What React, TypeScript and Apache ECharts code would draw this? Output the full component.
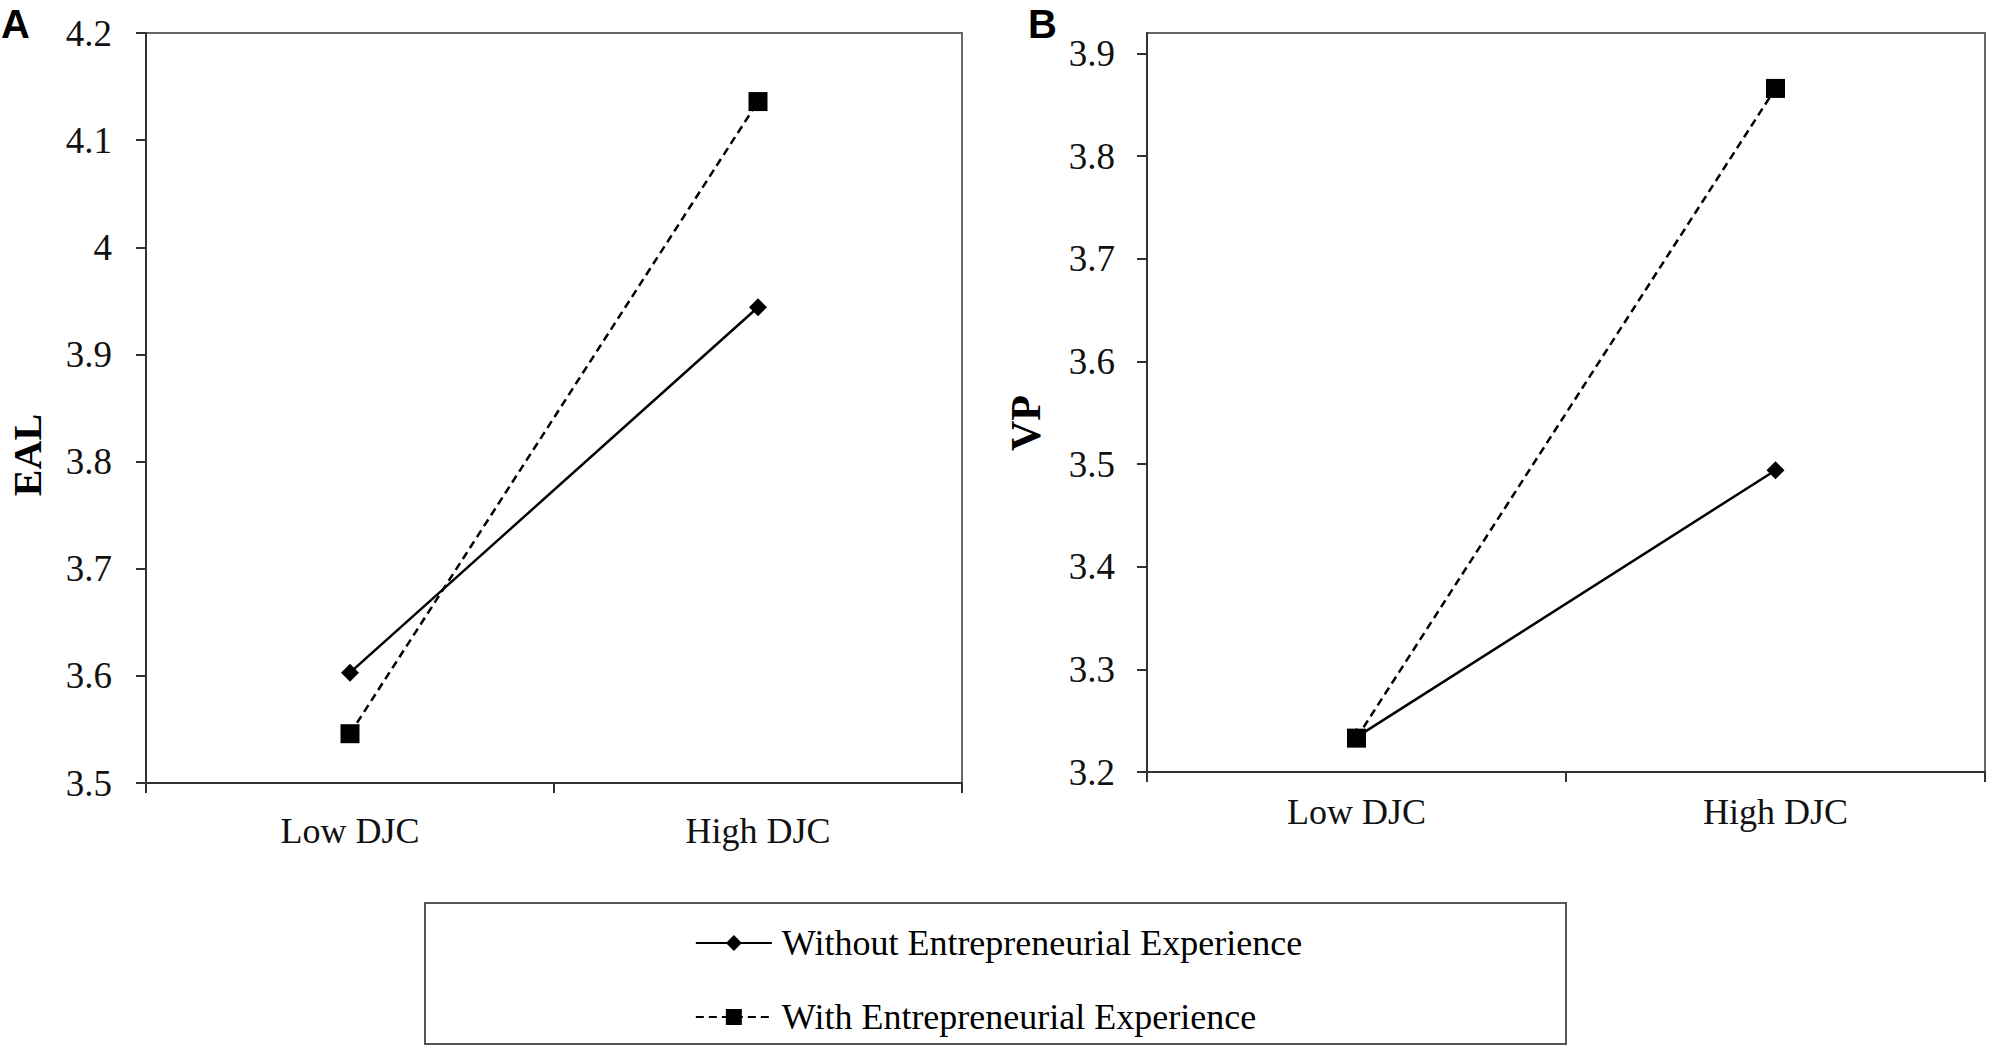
import React, { useEffect, useRef } from "react";
import * as echarts from "echarts";

const categories = ["Low DJC", "High DJC"];
const seriesNames = ["Without Entrepreneurial Experience", "With Entrepreneurial Experience"];
const ealWithout = [3.603, 3.944];
const ealWith = [3.546, 4.136];
const vpWithout = [3.234, 3.494];
const vpWith = [3.233, 3.866];
const ticksA = [3.5, 3.6, 3.7, 3.8, 3.9, 4.0, 4.1, 4.2];
const ticksB = [3.2, 3.3, 3.4, 3.5, 3.6, 3.7, 3.8, 3.9];

const SERIF = '"Liberation Serif", "Times New Roman", serif';
const SANS = '"Liberation Sans", Arial, sans-serif';

function App() {
  const ref = useRef<HTMLDivElement>(null);
  useEffect(() => {
    if (!ref.current) return;
    const chart = echarts.init(ref.current, null, { renderer: "svg" });

    const axisLine = { show: true, lineStyle: { color: "#333", width: 2 } };
    const axisTick = { show: true, inside: false, length: 10, lineStyle: { color: "#333", width: 2 } };

    const xAxisBase = (gi: number, margin: number) => ({
      type: "category",
      gridIndex: gi,
      data: categories,
      boundaryGap: true,
      axisLine,
      axisTick: { ...axisTick, alignWithLabel: false },
      axisLabel: { color: "#111", fontFamily: SERIF, fontSize: 36, margin },
      splitLine: { show: false },
    });

    const yAxisBase = (gi: number, min: number, max: number, ticks: number[], margin: number) => ({
      type: "value",
      gridIndex: gi,
      min,
      max,
      interval: 0.1,
      axisLine,
      axisTick: { ...axisTick, customValues: ticks },
      axisLabel: {
        color: "#111",
        fontFamily: SERIF,
        fontSize: 37,
        margin,
        formatter: (v: number) => {
          const r = Math.round(v * 10) / 10;
          return ticks.some((t) => Math.abs(t - v) < 1e-6) ? String(r) : "";
        },
      },
      splitLine: { show: false },
    });

    const solid = (name: string, data: number[], xi: number) => ({
      name,
      type: "line",
      xAxisIndex: xi,
      yAxisIndex: xi,
      data,
      symbol: "diamond",
      symbolSize: 18,
      lineStyle: { color: "#000", width: 2.5, type: "solid" },
      itemStyle: { color: "#000" },
      z: 2,
    });
    const dashed = (name: string, data: number[], xi: number) => ({
      name,
      type: "line",
      xAxisIndex: xi,
      yAxisIndex: xi,
      data,
      symbol: "rect",
      symbolSize: 19,
      lineStyle: { color: "#000", width: 2.5, type: [8, 5] },
      itemStyle: { color: "#000" },
      z: 3,
    });

    chart.setOption({
      animation: false,
      backgroundColor: "#fff",
      textStyle: { fontFamily: SERIF },
      grid: [
        { left: 146, top: 33, width: 816, height: 750, show: true, borderColor: "#666", borderWidth: 2, backgroundColor: "transparent" },
        { left: 1147, top: 33, width: 838, height: 739, show: true, borderColor: "#666", borderWidth: 2, backgroundColor: "transparent" },
      ],
      xAxis: [xAxisBase(0, 30), xAxisBase(1, 22)],
      yAxis: [yAxisBase(0, 3.5, 4.2, ticksA, 34), yAxisBase(1, 3.2, 3.92, ticksB, 32)],
      legend: {
        data: seriesNames,
        orient: "vertical",
        left: "center",
        top: 918,
        itemWidth: 76,
        itemHeight: 20,
        itemGap: 34,
        textStyle: { color: "#000", fontFamily: SERIF, fontSize: 36, lineHeight: 40, padding: [0, 0, 0, 5] },
      },
      graphic: [
        { type: "rect", shape: { x: 425, y: 903, width: 1141, height: 141 }, style: { fill: "none", stroke: "#555", lineWidth: 2 }, silent: true },
        { type: "text", x: 1, y: 4, style: { text: "A", font: `bold 40px ${SANS}`, fill: "#000" } },
        { type: "text", x: 1028, y: 4, style: { text: "B", font: `bold 40px ${SANS}`, fill: "#000" } },
        { type: "text", x: 27, y: 455, rotation: Math.PI / 2, style: { text: "EAL", font: `bold 40px ${SERIF}`, fill: "#000", align: "center", verticalAlign: "middle" } },
        { type: "text", x: 1026, y: 423, rotation: Math.PI / 2, style: { text: "VP", font: `bold 42px ${SERIF}`, fill: "#000", align: "center", verticalAlign: "middle" } },
      ],
      series: [
        solid(seriesNames[0], ealWithout, 0),
        dashed(seriesNames[1], ealWith, 0),
        solid(seriesNames[0], vpWithout, 1),
        dashed(seriesNames[1], vpWith, 1),
      ],
    });
    return () => chart.dispose();
  }, []);
  return (
    <div
      ref={ref}
      style={{ position: "absolute", left: 0, top: 0, width: 1997, height: 1057, background: "#fff" }}
    />
  );
}

export default App;
